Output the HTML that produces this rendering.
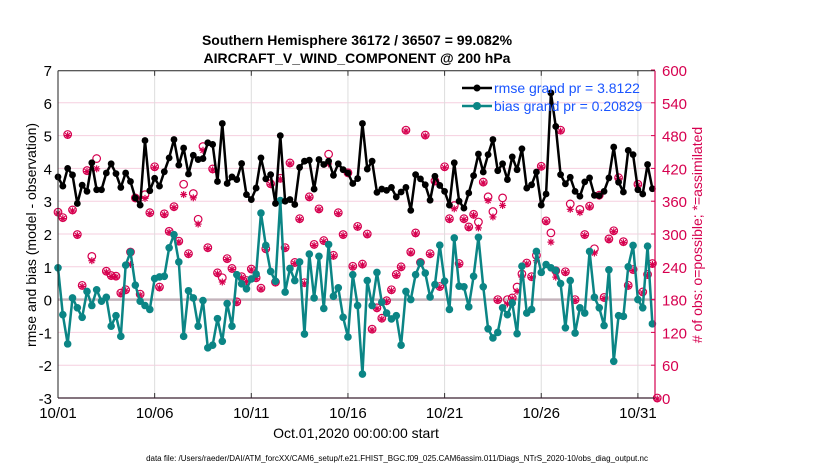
<!DOCTYPE html>
<html><head><meta charset="utf-8"><style>
body{margin:0;background:#fff;}
svg{display:block;font-family:"Liberation Sans",Arial,sans-serif;}
</style></head><body>
<svg id="chart" width="830" height="470" viewBox="0 0 830 470" xmlns="http://www.w3.org/2000/svg">
<text x="357" y="45" text-anchor="middle" font-size="14" font-weight="bold">Southern Hemisphere 36172 / 36507 = 99.082%</text>
<text x="357" y="63" text-anchor="middle" font-size="14" font-weight="bold">AIRCRAFT_V_WIND_COMPONENT @ 200 hPa</text>
<g id="grid"></g>
<g id="obs"></g>
<g id="series"></g>
<g id="axes"></g>
<text transform="translate(36,235) rotate(-90)" text-anchor="middle" font-size="14">rmse and bias (model - observation)</text>
<text fill="#d6004f" transform="translate(702,235) rotate(-90)" text-anchor="middle" font-size="14"># of obs: o=possible; *=assimilated</text>
<text x="356" y="438" text-anchor="middle" font-size="14">Oct.01,2020 00:00:00 start</text>
<text x="397" y="461" text-anchor="middle" font-size="8">data file: /Users/raeder/DAI/ATM_forcXX/CAM6_setup/f.e21.FHIST_BGC.f09_025.CAM6assim.011/Diags_NTrS_2020-10/obs_diag_output.nc</text>
<g>
<line x1="462" y1="88" x2="492" y2="88" stroke="#000" stroke-width="2.5"/><circle cx="477" cy="88" r="3.5" fill="#000"/>
<text x="494" y="93" font-size="14" fill="#1a55ff">rmse grand pr = 3.8122</text>
<line x1="462" y1="106" x2="492" y2="106" stroke="#0b8585" stroke-width="2.5"/><circle cx="477" cy="106" r="4" fill="#0b8585"/>
<text x="494" y="111" font-size="14" fill="#1a55ff">bias grand pr = 0.20829</text>
</g>
</svg>
<script>
const days = ["10/01","10/06","10/11","10/16","10/21","10/26","10/31"];
const dayOffsets = [0,5,10,15,20,25,30];
const leftTicks = [-3,-2,-1,0,1,2,3,4,5,6,7];
const rightTicks = [0,60,120,180,240,300,360,420,480,540,600];
const rmse = [3.74,3.46,4.0,3.8,2.93,3.49,3.3,4.17,3.35,3.35,3.86,4.14,3.84,3.42,3.86,3.6,3.1,2.88,4.85,3.32,3.7,3.46,3.9,4.32,4.88,4.1,4.62,3.83,4.4,4.27,4.3,4.78,4.73,3.6,5.37,3.54,3.74,3.66,4.15,3.2,3.05,
3.40,4.32,3.68,3.81,2.93,5.0,3.0,3.05,2.9,4.03,4.22,4.25,3.37,4.27,4.12,4.22,3.79,4.14,3.96,3.86,3.54,3.69,5.37,3.98,4.22,3.27,3.37,3.33,3.42,3.13,3.28,3.42,2.72,3.81,3.68,3.5,3.03,3.76,3.48,3.3,2.88,
4.17,3.0,2.79,3.25,3.78,4.44,3.89,4.42,4.88,3.93,4.14,3.66,4.35,3.96,4.6,3.4,3.5,3.89,2.88,3.22,6.3,5.28,3.81,3.53,3.73,3.3,3.15,3.59,3.71,3.18,3.17,3.3,3.71,4.65,3.58,3.28,4.55,4.42,3.35,3.22,4.12,3.38];
const bias = [0.97,-0.46,-1.35,0.05,-0.25,-0.54,0.25,-0.18,0.3,-0.05,0.07,-0.81,-0.49,-1.12,1.05,1.45,0.44,-0.05,-0.18,-0.3,0.64,0.69,0.71,1.58,1.98,1.15,-1.12,0.27,0.05,-0.81,-0.03,-1.47,-1.39,-0.58,-1.27,-0.12,-0.81,0.76,0.48,0.33,0.63,
0.78,2.64,1.65,0.86,0.56,3.02,0.23,0.95,0.58,1.15,-1.05,1.39,0.05,1.32,-0.27,1.68,0.1,0.36,-0.54,-1.14,0.76,-0.18,-2.27,0.58,-0.18,0.83,-0.08,-0.41,-0.59,-0.49,-1.39,0.25,0.0,0.76,1.12,0.81,0.08,0.46,1.66,0.56,-0.3,
1.88,0.41,0.39,-0.22,0.71,1.9,0.39,-0.89,-1.17,-1.0,-0.25,-0.46,-0.1,-1.04,1.02,-0.41,-0.3,1.47,0.83,1.07,0.97,0.89,0.49,-0.86,0.58,-1.02,-0.25,-0.41,1.47,0.07,-0.25,-0.79,0.91,-1.88,-0.49,-0.51,1.0,1.65,0.0,-0.25,1.63,-0.74];
const possible = [340,330,482,344,299,206,416,259,438,null,232,224,223,192,198,267,366,190,372,339,423,203,337,305,350,287,391,264,374,327,460,275,419,229,220,255,237,176,222,215,236,
220,201,273,392,212,402,275,430,248,328,211,368,281,346,288,446,261,339,299,412,241,314,245,300,126,165,146,178,198,226,240,490,267,302,248,481,264,397,204,423,328,
352,246,328,313,336,322,395,368,341,180,366,180,183,203,227,247,222,261,424,324,302,233,490,231,355,180,345,299,351,273,371,184,291,306,403,286,206,235,391,194,226,246,0];
const assimilated = [340,330,482,344,299,206,416,253,421,null,232,224,223,192,198,246,366,190,367,339,423,203,337,305,350,287,374,264,368,320,455,275,419,229,214,255,237,176,222,215,236,
220,201,273,392,212,402,275,430,248,328,211,368,281,346,288,430,261,339,299,412,241,314,245,300,126,165,146,178,198,226,240,490,267,302,248,481,264,397,204,423,328,
348,246,328,313,336,313,395,363,333,180,354,174,183,197,223,247,222,253,424,324,287,223,490,231,347,180,341,299,351,267,371,184,291,306,403,286,206,235,391,194,226,246,0];

const NS="http://www.w3.org/2000/svg";
const X0=58, PXDAY=19.33, Y0=398, PXU=32.8, RIGHT=655, TOP=70.8;
const xOf = i => X0 + PXDAY*i/4;
const xDay = d => X0 + PXDAY*d;
const yL = v => Y0 - (v+3)*PXU;
const yR = c => Y0 - c/60*PXU;
function mk(tag, attrs, parent){const e=document.createElementNS(NS,tag);for(const k in attrs)e.setAttribute(k,attrs[k]);parent.appendChild(e);return e;}
const grid=document.getElementById('grid'), axes=document.getElementById('axes'), obs=document.getElementById('obs'), series=document.getElementById('series');

leftTicks.forEach(t=>{
  if(t>-3&&t<7&&t!==0){const l=mk('line',{x1:X0,x2:RIGHT,y1:yL(t),y2:yL(t),stroke:'#f6cfdf','stroke-width':1},grid);
  
  }
  const tx=mk('text',{x:X0-6,y:yL(t)+6,'text-anchor':'end','font-size':15},axes);
  tx.textContent=t;
  
  
});
rightTicks.forEach(t=>{
  const tx=mk('text',{x:RIGHT+7,y:yR(t)+6,'font-size':15,fill:'#d6004f'},axes);
  tx.textContent=t;
  
  
  mk('line',{x1:RIGHT-4,x2:RIGHT,y1:yR(t),y2:yR(t),stroke:'#d6004f'},axes);
});
days.forEach((d,k)=>{
  const x=xDay(dayOffsets[k]);
  if(k>0){const g=mk('line',{x1:x,x2:x,y1:TOP,y2:Y0,stroke:'#ddd','stroke-width':1},grid);
  
  }
  mk('line',{x1:x,x2:x,y1:TOP,y2:TOP+5,stroke:'#333'},axes);
  mk('line',{x1:x,x2:x,y1:Y0,y2:Y0-5,stroke:'#333'},axes);
  const tx=mk('text',{x:x,y:Y0+20,'text-anchor':'middle','font-size':15},axes);
  tx.textContent=d;
  
  
});
const z=mk('line',{x1:X0,x2:RIGHT,y1:yL(0),y2:yL(0),stroke:'#c4b4bc','stroke-width':2.5},grid);


mk('line',{x1:X0,x2:RIGHT,y1:TOP,y2:TOP,stroke:'#222'},axes);
mk('line',{x1:X0,x2:RIGHT,y1:Y0,y2:Y0,stroke:'#3a2030','stroke-width':1.2},axes);
mk('line',{x1:X0,x2:X0,y1:TOP,y2:Y0,stroke:'#222'},axes);
mk('line',{x1:RIGHT,x2:RIGHT,y1:TOP,y2:Y0,stroke:'#d6004f','stroke-width':1.2},axes);

possible.forEach((c,i)=>{
  if(c===null)return;
  const ci=mk('circle',{cx:xOf(i),cy:yR(c),r:3.8,fill:'none',stroke:'#d6004f','stroke-width':1.2},obs);
  
  
});
assimilated.forEach((c,i)=>{
  if(c===null)return;
  const x=xOf(i), y=yR(c)+1;
  const g=mk('g',{stroke:'#d6004f','stroke-width':1.2},obs);
  
  
  mk('line',{x1:x-3.5,x2:x+3.5,y1:y,y2:y},g);
  mk('line',{x1:x,x2:x,y1:y-3.5,y2:y+3.5},g);
  mk('line',{x1:x-2.5,x2:x+2.5,y1:y-2.5,y2:y+2.5},g);
  mk('line',{x1:x-2.5,x2:x+2.5,y1:y+2.5,y2:y-2.5},g);
});
function drawSeries(arr,color,r,name){
  const pl=mk('polyline',{points:arr.map((v,i)=>xOf(i)+','+yL(v)).join(' '),fill:'none',stroke:color,'stroke-width':2.5,'stroke-linejoin':'round'},series);
  
  
  arr.forEach((v,i)=>{
    const c=mk('circle',{cx:xOf(i),cy:yL(v),r:r,fill:color},series);
    
    
  });
}
drawSeries(bias,'#0b8585',3.8,'bias');
drawSeries(rmse,'#000',3.4,'rmse');
</script>
</body></html>
